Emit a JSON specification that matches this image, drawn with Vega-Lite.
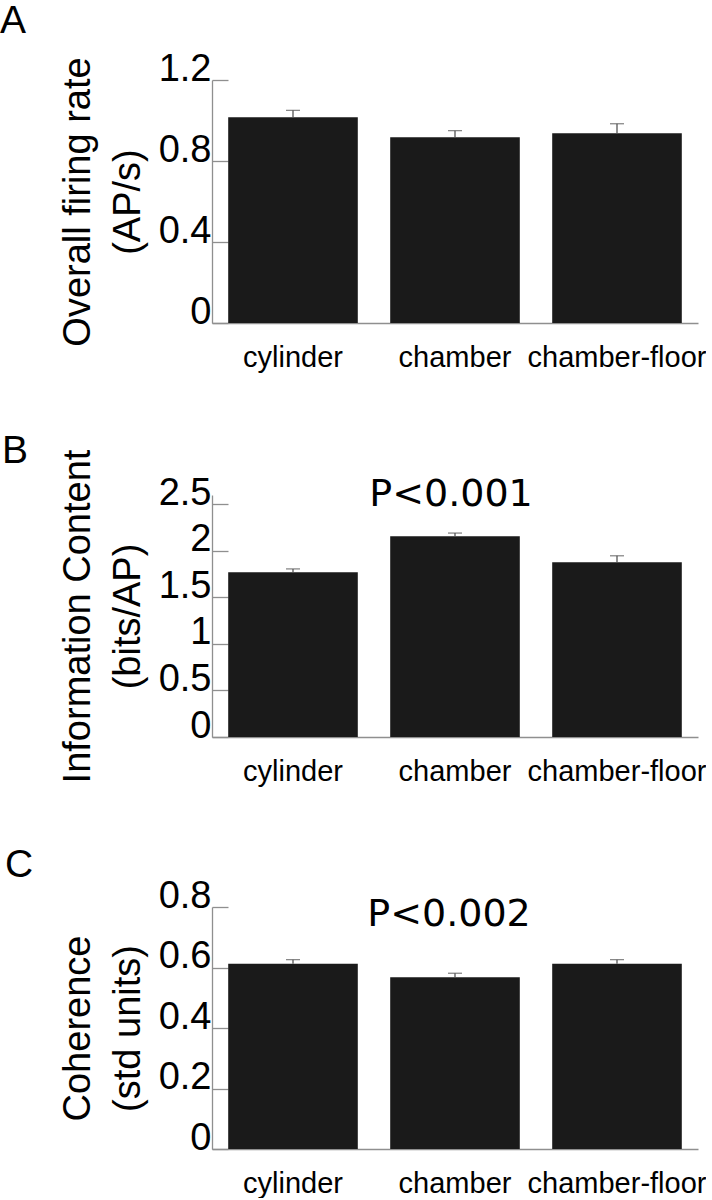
{
  "$schema": "https://vega.github.io/schema/vega-lite/v6.json",
  "padding": {"left": 0, "top": 2, "right": 0, "bottom": 0},
  "background": "white",
  "config": {
    "font": "Liberation Sans",
    "view": {"stroke": null},
    "axis": {"domainColor": "#8f8f8f", "tickColor": "#8f8f8f", "labelColor": "#000", "titleColor": "#000", "labelFont": "Liberation Sans", "titleFont": "Liberation Sans", "grid": false, "titleFontWeight": "normal", "domainWidth": 1.3, "tickWidth": 1.3},
    "axisY": {"labelFontSize": 38, "tickSize": -16, "labelPadding": 17, "labelBaseline": "alphabetic", "labelOverlap": false, "labelFlush": false, "titleFontSize": 38, "titleLineHeight": 50, "titlePadding": 11},
    "axisX": {"labelFontSize": 29, "ticks": false, "labelPadding": 20, "labelAngle": 0, "labelLimit": 400},
    "title": {"fontSize": 39, "fontWeight": "normal", "anchor": "start", "frame": "group", "offset": 0, "font": "Liberation Sans", "color": "#000"}
  },
  "datasets": {
    "A": [
      {"cond": "cylinder", "val": 1.016, "err": 1.05},
      {"cond": "chamber", "val": 0.917, "err": 0.95},
      {"cond": "chamber-floor", "val": 0.937, "err": 0.984}
    ],
    "B": [
      {"cond": "cylinder", "val": 1.771, "err": 1.806},
      {"cond": "chamber", "val": 2.156, "err": 2.191},
      {"cond": "chamber-floor", "val": 1.878, "err": 1.947}
    ],
    "C": [
      {"cond": "cylinder", "val": 0.612, "err": 0.626},
      {"cond": "chamber", "val": 0.568, "err": 0.581},
      {"cond": "chamber-floor", "val": 0.612, "err": 0.626}
    ],
    "PB": [{"cond": "chamber", "y": 2.479, "label": "P<0.001"}],
    "PC": [{"cond": "chamber", "y": 0.736, "label": "P<0.002"}]
  },
  "concat": [
    {
      "width": 486, "height": 243,
      "title": {"text": "A", "dx": -212, "dy": -5},
      "encoding": {"x": {"field": "cond", "type": "nominal", "sort": null, "scale": {"paddingInner": 0.2, "paddingOuter": 0.1}, "axis": {"title": null}}},
      "layer": [
        {"data": {"name": "A"}, "mark": {"type": "bar", "color": "#1a1a1a"},
         "encoding": {"y": {"field": "val", "type": "quantitative", "scale": {"domain": [0, 1.2]}, "axis": {"values": [0, 0.4, 0.8, 1.2], "labelExpr": "'' + datum.value", "title": ["Overall firing rate", "(AP/s)"]}}}},
        {"data": {"name": "A"}, "mark": {"type": "rule", "color": "#555", "strokeWidth": 1.3},
         "encoding": {"y": {"field": "val", "type": "quantitative"}, "y2": {"field": "err"}}},
        {"data": {"name": "A"}, "mark": {"type": "tick", "color": "#555", "size": 14, "thickness": 1.3},
         "encoding": {"y": {"field": "err", "type": "quantitative"}}}
      ]
    },
    {
      "width": 486, "height": 242,
      "title": {"text": "B", "dx": -210, "dy": 26},
      "encoding": {"x": {"field": "cond", "type": "nominal", "sort": null, "scale": {"paddingInner": 0.2, "paddingOuter": 0.1}, "axis": {"title": null}}},
      "layer": [
        {"data": {"name": "B"}, "mark": {"type": "bar", "color": "#1a1a1a"},
         "encoding": {"y": {"field": "val", "type": "quantitative", "scale": {"domain": [0, 2.5]}, "axis": {"values": [0, 0.5, 1, 1.5, 2, 2.5], "labelExpr": "'' + datum.value", "title": ["Information Content", "(bits/AP)"]}}}},
        {"data": {"name": "B"}, "mark": {"type": "rule", "color": "#555", "strokeWidth": 1.3},
         "encoding": {"y": {"field": "val", "type": "quantitative"}, "y2": {"field": "err"}}},
        {"data": {"name": "B"}, "mark": {"type": "tick", "color": "#555", "size": 14, "thickness": 1.3},
         "encoding": {"y": {"field": "err", "type": "quantitative"}}},
        {"data": {"name": "PB"}, "mark": {"type": "text", "font": "DejaVu Sans", "fontSize": 38, "baseline": "alphabetic", "dx": -4, "color": "#000"},
         "encoding": {"y": {"field": "y", "type": "quantitative"}, "text": {"field": "label"}}}
      ]
    },
    {
      "width": 486, "height": 242,
      "title": {"text": "C", "dx": -207, "dy": 12},
      "encoding": {"x": {"field": "cond", "type": "nominal", "sort": null, "scale": {"paddingInner": 0.2, "paddingOuter": 0.1}, "axis": {"title": null}}},
      "layer": [
        {"data": {"name": "C"}, "mark": {"type": "bar", "color": "#1a1a1a"},
         "encoding": {"y": {"field": "val", "type": "quantitative", "scale": {"domain": [0, 0.8]}, "axis": {"values": [0, 0.2, 0.4, 0.6, 0.8], "labelExpr": "'' + datum.value", "title": ["Coherence", "(std units)"]}}}},
        {"data": {"name": "C"}, "mark": {"type": "rule", "color": "#555", "strokeWidth": 1.3},
         "encoding": {"y": {"field": "val", "type": "quantitative"}, "y2": {"field": "err"}}},
        {"data": {"name": "C"}, "mark": {"type": "tick", "color": "#555", "size": 14, "thickness": 1.3},
         "encoding": {"y": {"field": "err", "type": "quantitative"}}},
        {"data": {"name": "PC"}, "mark": {"type": "text", "font": "DejaVu Sans", "fontSize": 38, "baseline": "alphabetic", "dx": -6, "color": "#000"},
         "encoding": {"y": {"field": "y", "type": "quantitative"}, "text": {"field": "label"}}}
      ]
    }
  ],
  "columns": 1,
  "bounds": "full",
  "spacing": 60
}
